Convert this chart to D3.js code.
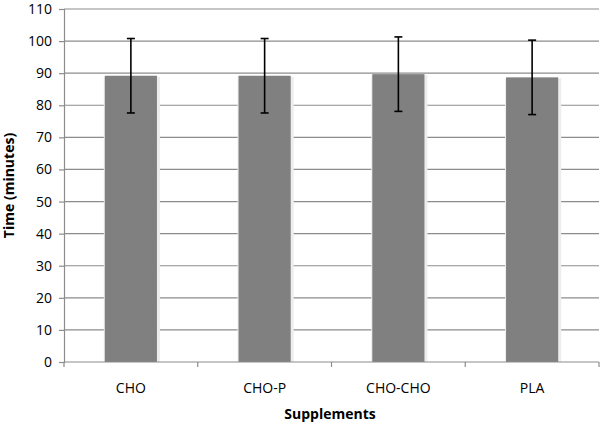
<!DOCTYPE html>
<html><head><meta charset="utf-8">
<script src="https://cdn.jsdelivr.net/npm/d3@7"></script>
<style>body{margin:0;background:#fff}svg text{font-family:"Open Sans",Lato,sans-serif;}</style>
</head><body>
<svg id="c" width="600" height="425"></svg>
<script>
const categories = ["CHO", "CHO-P", "CHO-CHO", "PLA"];
const means = [89.2, 89.2, 89.7, 88.7];
const errors = [11.6, 11.6, 11.6, 11.6];
const yTicks = [0,10,20,30,40,50,60,70,80,90,100,110];

const svg = d3.select("#c");
const m = {l:64, r:1, t:9, b:63};
const W = 600, H = 425;
const x = d3.scaleBand().domain(categories).range([m.l, W - m.r]).paddingInner(0.61).paddingOuter(0.305);
const xb = d3.scaleBand().domain(categories).range([m.l, W - m.r]);
const y = d3.scaleLinear().domain([0,110]).range([H - m.b, m.t]);

// grid
svg.append("g").selectAll("line").data(yTicks.filter(d=>d>0)).join("line")
  .attr("x1", m.l).attr("x2", W - m.r).attr("y1", d=>y(d)).attr("y2", d=>y(d))
  .attr("stroke", "#8c8c8c").attr("stroke-width", 1.2);

// bar shadows
svg.append("g").selectAll("rect").data(categories).join("rect")
  .attr("x", d=>x(d)-1).attr("width", x.bandwidth()+4)
  .attr("y", (d,i)=>y(means[i])+1).attr("height", (d,i)=>y(0)-y(means[i])-1)
  .attr("fill", "#ededed");
// bars
svg.append("g").selectAll("rect").data(categories).join("rect")
  .attr("x", d=>x(d)).attr("width", x.bandwidth())
  .attr("y", (d,i)=>y(means[i])).attr("height", (d,i)=>y(0)-y(means[i]))
  .attr("fill", "#808080");

// error bars
const eg = svg.append("g").attr("stroke", "#000").attr("stroke-width", 1.6);
categories.forEach((c,i)=>{
  const cx = x(c) + x.bandwidth()/2;
  eg.append("line").attr("x1", cx).attr("x2", cx).attr("y1", y(means[i]+errors[i])).attr("y2", y(means[i]-errors[i]));
  eg.append("line").attr("x1", cx-4).attr("x2", cx+4).attr("y1", y(means[i]+errors[i])).attr("y2", y(means[i]+errors[i]));
  eg.append("line").attr("x1", cx-4).attr("x2", cx+4).attr("y1", y(means[i]-errors[i])).attr("y2", y(means[i]-errors[i]));
});

// y axis
const ya = svg.append("g").attr("transform", `translate(${m.l},0)`)
  .call(d3.axisLeft(y).tickValues(yTicks).tickSize(5).tickPadding(7));
ya.select(".domain").attr("stroke", "#8c8c8c").attr("stroke-width", 1.2);
ya.selectAll(".tick line").attr("stroke", "#8c8c8c").attr("stroke-width", 1.2);
ya.selectAll("text").attr("font-size", 14).attr("fill", "#000").attr("font-family", "Open Sans");

// x axis
const xa = svg.append("g").attr("transform", `translate(0,${H - m.b})`);
xa.append("line").attr("x1", m.l).attr("x2", W - m.r).attr("stroke", "#8c8c8c").attr("stroke-width", 1.2);
const bounds = categories.map(c=>xb(c)).concat([xb(categories[categories.length-1]) + xb.bandwidth()]);
xa.selectAll("line.t").data(bounds).join("line").attr("class","t")
  .attr("x1", d=>d).attr("x2", d=>d).attr("y1", 0).attr("y2", 5)
  .attr("stroke", "#8c8c8c").attr("stroke-width", 1.2);
xa.selectAll("text").data(categories).join("text")
  .attr("x", d=>xb(d)+xb.bandwidth()/2).attr("y", 31)
  .attr("text-anchor", "middle").attr("font-size", 14).text(d=>d);

// titles
svg.append("text").attr("x", 330).attr("y", 419).attr("text-anchor", "middle")
  .attr("font-size", 14).attr("font-weight", "bold").text("Supplements");
svg.append("text").attr("transform", `translate(14,${y(55)}) rotate(-90)`).attr("text-anchor", "middle")
  .attr("font-size", 14).attr("font-weight", "bold").text("Time (minutes)");
</script>
</body></html>
